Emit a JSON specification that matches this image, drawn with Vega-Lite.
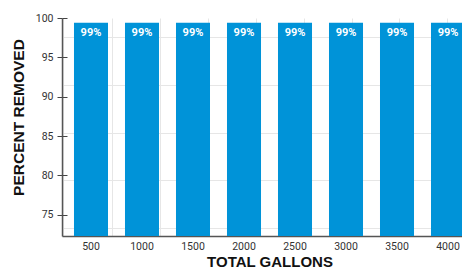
{
  "$schema": "https://vega.github.io/schema/vega-lite/v6.json",
  "width": 415,
  "height": 218,
  "autosize": {"type": "none"},
  "padding": {"left": 62, "top": 18, "right": 0, "bottom": 33},
  "background": "white",
  "config": {"view": {"stroke": null}, "font": "Liberation Sans"},
  "data": {
    "values": [
      {"gallons": 500, "pct": 99.4, "label": "99%"},
      {"gallons": 1000, "pct": 99.4, "label": "99%"},
      {"gallons": 1500, "pct": 99.4, "label": "99%"},
      {"gallons": 2000, "pct": 99.4, "label": "99%"},
      {"gallons": 2500, "pct": 99.4, "label": "99%"},
      {"gallons": 3000, "pct": 99.4, "label": "99%"},
      {"gallons": 3500, "pct": 99.4, "label": "99%"},
      {"gallons": 4000, "pct": 99.4, "label": "99%"}
    ]
  },
  "layer": [
    {
      "mark": {"type": "rule", "opacity": 0},
      "encoding": {
        "x": {
          "datum": 0,
          "type": "quantitative",
          "scale": {"domain": [0, 415], "nice": false, "zero": false},
          "axis": {"orient": "top", "values": [1, 50, 98, 146, 194, 242, 290, 337, 385], "grid": true, "gridColor": "#e6e6e6", "gridWidth": 1, "labels": false, "ticks": false, "domain": false, "title": null}
        }
      }
    },
    {
      "layer": [
        {
          "mark": {"type": "bar", "color": "#0093d8", "clip": true},
          "encoding": {
            "x": {
              "field": "gallons",
              "type": "ordinal",
              "scale": {"paddingInner": 0.333, "paddingOuter": 0.235},
              "axis": {"title": "TOTAL GALLONS", "labelAngle": 0, "ticks": false, "labelPadding": 5, "labelFont": "Roboto", "labelFontSize": 10.5, "labelColor": "#333", "domainColor": "#555", "domainWidth": 1.5, "titleFont": "Liberation Sans", "titleFontSize": 15, "titleFontWeight": "bold", "titleColor": "#111", "titlePadding": 3, "grid": false}
            },
            "y": {
              "field": "pct",
              "type": "quantitative",
              "scale": {"domain": [72.3, 100], "nice": false, "zero": false},
              "axis": {"orient": "left", "values": [75, 80, 85, 90, 95, 100], "grid": false, "tickSize": 5, "tickColor": "#444", "domainColor": "#555", "domainWidth": 1.5, "labelFont": "Roboto", "labelFontSize": 10.5, "labelColor": "#333", "labelPadding": 4, "title": "PERCENT REMOVED", "titleFont": "Liberation Sans", "titleFontSize": 15.5, "titleFontWeight": "bold", "titleColor": "#111", "titleX": -44, "titleY": 99, "titleAngle": -90, "titleAlign": "center", "titleBaseline": "middle"}
            }
          }
        },
        {
          "mark": {"type": "text", "color": "white", "font": "Roboto", "fontWeight": "bold", "fontSize": 11, "baseline": "alphabetic", "dy": 13},
          "encoding": {
            "x": {"field": "gallons", "type": "ordinal"},
            "y": {
              "field": "pct",
              "type": "quantitative",
              "axis": {"orient": "right", "values": [97.6, 91.5, 85.4, 79.4, 73.3], "grid": true, "gridColor": "#e6e6e6", "gridWidth": 1, "labels": false, "ticks": false, "domain": false, "title": null}
            },
            "text": {"field": "label"}
          }
        },
        {
          "mark": {"type": "bar", "opacity": 0, "clip": true},
          "encoding": {
            "x": {"field": "gallons", "type": "ordinal"},
            "y": {
              "field": "pct",
              "type": "quantitative",
              "axis": {"orient": "left", "values": [75, 80, 85, 90, 95, 100], "tickSize": -5, "tickColor": "#444", "labels": false, "domain": false, "grid": false, "title": null}
            }
          }
        }
      ],
      "resolve": {"axis": {"y": "independent"}}
    }
  ],
  "resolve": {"scale": {"x": "independent"}, "axis": {"x": "independent"}}
}
